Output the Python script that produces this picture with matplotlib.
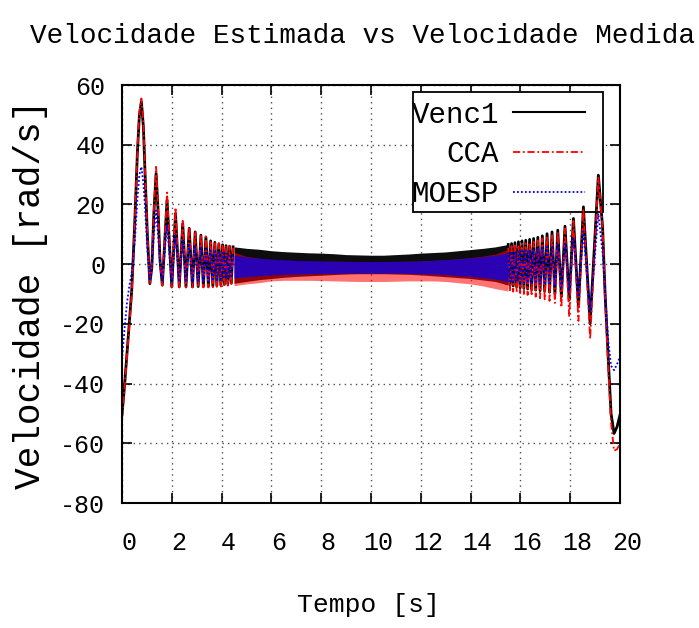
import matplotlib
matplotlib.use("Agg")
import matplotlib.pyplot as plt
from matplotlib.patches import Rectangle
from matplotlib.transforms import ScaledTranslation

plt.rcParams["font.family"] = ["Liberation Mono", "DejaVu Sans Mono"]
plt.rcParams["axes.unicode_minus"] = False

# ---------------------------------------------------------------------------
# Data: turning points of the slow start/end of the sweep, and the envelope
# of the dense middle part (too fast to resolve single cycles)
# ---------------------------------------------------------------------------
t_left = [0.00, 0.10, 0.20, 0.30, 0.39, 0.45, 0.52, 0.62, 0.70, 0.78,
          0.86, 0.92, 1.02, 1.12, 1.20, 1.28, 1.37, 1.45, 1.53, 1.62,
          1.81, 2.00, 2.15, 2.30, 2.44, 2.57, 2.70, 2.83, 2.94, 3.06,
          3.17, 3.27, 3.37, 3.47, 3.56, 3.65, 3.73, 3.81, 3.89, 3.97,
          4.04, 4.11, 4.18, 4.25, 4.32, 4.39, 4.46]
venc_left = [-50.5, -41, -30, -19, -9, 2, 15.4, 37.6, 50, 54.4,
             46, 32, 9.7, -6.5, -1, 17, 30.4, 18, 1, -7,
             21.4, -7.6, 17, -7.6, 13.6, -7.6, 12, -7.6, 10.8, -7.5,
             9.7, -7.5, 9.1, -7.4, 7.8, -7.3, 7.3, -7.2, 6.8, -7.0,
             6.5, -6.8, 6.2, -6.6, 6.0, -6.4, 5.8]
cca_left = [-51.5, -42, -31, -20, -10, 1, 15, 38, 51, 55.5,
            47, 33, 10, -6.5, -0.5, 18, 32.6, 19, 1, -7.2,
            24, -7.8, 19, -7.8, 14.5, -7.8, 12.5, -7.8, 11, -7.8,
            10, -7.8, 9.2, -7.8, 8, -7.7, 7.5, -7.6, 7, -7.5,
            6.5, -7.4, 6.2, -7.2, 6, -7.0, 5.5]
moesp_left = [-32, -22, -13, -7, -3, 2, 8, 22, 30, 32.6,
              27, 20, 5, -5.5, -1, 10, 18, 10, 0, -5.5,
              13, -6, 9.5, -6, 8, -6, 7, -6, 6, -6,
              5.5, -6, 5, -5.8, 4.5, -5.6, 4.2, -5.4, 4, -5.2,
              3.8, -5, 3.6, -4.8, 3.4, -4.6, 3.2]

t_band = [4.5, 5.0, 5.5, 6.0, 6.5, 7.0, 7.5, 8.0, 8.5, 9.0, 9.5, 10.0,
          10.5, 11.0, 11.5, 12.0, 12.5, 13.0, 13.5, 14.0, 14.5, 15.0, 15.5]
venc_hi = [5.8, 5.3, 5.0, 4.5, 4.2, 4.0, 3.8, 3.7, 3.5, 3.2, 3.1, 3.0,
           3.0, 3.2, 3.4, 3.7, 3.9, 4.1, 4.5, 4.9, 5.3, 5.8, 6.6]
venc_lo = [-6.4, -5.8, -5.2, -4.8, -4.4, -4.1, -3.9, -3.7, -3.5, -3.3, -3.2, -3.2,
           -3.2, -3.3, -3.4, -3.6, -3.9, -4.2, -4.5, -4.8, -5.3, -5.8, -7.0]
cca_hi = [4.0, 2.6, 2.0, 1.6, 1.4, 1.2, 1.1, 1.0, 1.0, 0.9, 0.9, 0.9,
          0.9, 0.9, 1.0, 1.1, 1.3, 1.5, 1.8, 2.2, 2.7, 3.4, 5.0]
cca_lo = [-7.2, -6.6, -6.2, -5.6, -5.4, -5.4, -5.4, -5.5, -5.6, -5.7, -5.8, -5.8,
          -5.8, -5.7, -5.6, -5.6, -5.6, -5.8, -6.2, -6.6, -7.3, -8.2, -9.0]
moesp_hi = [3.0, 2.4, 2.0, 1.7, 1.5, 1.3, 1.2, 1.1, 1.0, 1.0, 0.9, 0.9,
            0.9, 1.0, 1.0, 1.1, 1.3, 1.5, 1.8, 2.1, 2.5, 3.0, 3.8]
moesp_lo = [-4.6, -4.2, -3.9, -3.6, -3.4, -3.3, -3.2, -3.1, -3.1, -3.0, -3.0, -3.0,
            -3.0, -3.0, -3.1, -3.2, -3.3, -3.5, -3.8, -4.1, -4.5, -5.0, -5.8]

t_right = [15.51, 15.58, 15.645, 15.71, 15.78, 15.85, 15.92, 15.99, 16.065, 16.14,
           16.215, 16.29, 16.37, 16.45, 16.53, 16.615, 16.70, 16.79, 16.88, 16.975,
           17.07, 17.17, 17.27, 17.385, 17.50, 17.645, 17.79, 17.96, 18.13, 18.33,
           18.53, 18.80, 19.13, 19.30, 19.40, 19.53, 19.64, 19.76, 19.88, 20.00]
venc_right = [6.6, -7.0, 6.9, -7.3, 7.2, -7.6, 7.5, -7.9, 7.8, -8.1,
              8.0, -8.3, 8.3, -8.5, 8.6, -8.7, 9.0, -8.9, 9.5, -9.1,
              10.2, -9.4, 10.8, -9.9, 11.4, -10.9, 12.7, -12.0, 15.3, -14.3,
              19.2, -19.9, 29.8, 12.5, -9.8, -32, -50, -56.7, -54.5, -50.5]
cca_right = [5.5, -9.0, 6, -9.2, 6.2, -9.4, 6.5, -9.7, 6.8, -10.0,
             7.0, -10.3, 7.3, -10.6, 7.6, -10.9, 8.0, -11.4, 8.6, -11.8,
             9.4, -12.3, 10.0, -13.0, 10.8, -14.5, 12.0, -17.6, 14.5, -19.0,
             18.5, -25.0, 29.0, 12.0, -11.0, -35.0, -53.0, -62.5, -62.0, -60.0]
moesp_right = [4.0, -5.8, 4.1, -5.9, 4.2, -6.0, 4.3, -6.1, 4.5, -6.2,
               4.6, -6.3, 4.8, -6.4, 5.0, -6.5, 5.2, -6.6, 5.5, -6.8,
               5.8, -7.0, 6.2, -7.3, 6.6, -7.8, 7.3, -9.0, 9.0, -11.0,
               11.0, -16.0, 17.0, 4.0, -9.0, -26.0, -34.0, -35.5, -33.5, -31.0]

labels = ["Venc1", "CCA", "MOESP"]
x_ticks = list(range(0, 21, 2))
y_ticks = list(range(-80, 61, 20))

# ---------------------------------------------------------------------------
# Figure
# ---------------------------------------------------------------------------
fig = plt.figure(figsize=(6.99, 6.28), dpi=100)
ax = fig.add_axes([0.1745, 0.199, 0.7125, 0.6656])

styles = [
    dict(color="black", lw=2.0, ls="-"),
    dict(color="red", lw=1.3, ls=(0, (4, 1.5, 1, 1.5))),
    dict(color="blue", lw=1.3, ls=(0, (1, 1.2))),
]
band_alpha = [0.95, 0.55, 0.7]
series = [
    (venc_left, venc_hi, venc_lo, venc_right),
    (cca_left, cca_hi, cca_lo, cca_right),
    (moesp_left, moesp_hi, moesp_lo, moesp_right),
]

for (left, hi, lo, right), st, a in zip(series, styles, band_alpha):
    ax.plot(t_left, left, zorder=2, **st)
    ax.fill_between(t_band, lo, hi, color=st["color"], alpha=a, lw=0, zorder=2)
    ax.plot(t_right, right, zorder=2, **st)

ax.set_xlim(0, 20)
ax.set_ylim(-80, 60)
ax.set_xticks(x_ticks)
ax.set_yticks(y_ticks)
ax.grid(True, color="0.3", linestyle=(0, (1, 3)), linewidth=1.0)
ax.set_axisbelow(True)
ax.tick_params(direction="in", top=True, right=True, length=7, width=1.2,
               labelsize=18)
ax.tick_params(axis="x", pad=20)
ax.tick_params(axis="y", pad=12)
for sp in ax.spines.values():
    sp.set_linewidth(1.5)

# gnuplot-style offset of the x tick labels
shift = ScaledTranslation(7 / 100, 0, fig.dpi_scale_trans)
for lbl in ax.get_xticklabels():
    lbl.set_transform(lbl.get_transform() + shift)

# Key box drawn by hand: text right-aligned, sample on the right
ax.add_patch(Rectangle((0.584, 0.696), 0.382, 0.287, transform=ax.transAxes,
                       facecolor="white", edgecolor="black", lw=1.3, zorder=1.5))
key_text_y = [0.928, 0.835, 0.739]
key_line_y = [0.936, 0.840, 0.745]
for name, st, ty, ly in zip(labels, styles, key_text_y, key_line_y):
    ax.text(0.757, ty, name, transform=ax.transAxes, ha="right", va="center",
            fontsize=21, zorder=5)
    ax.plot([0.785, 0.930], [ly, ly], transform=ax.transAxes, zorder=5,
            color=st["color"], ls=st["ls"], lw=1.3 if st["color"] != "black" else 1.5)

fig.text(0.519, 0.943, "Velocidade Estimada vs Velocidade Medida",
         ha="center", va="center", fontsize=20)
fig.text(0.527, 0.037, "Tempo [s]", ha="center", va="center", fontsize=19)
fig.text(0.043, 0.532, "Velocidade [rad/s]", ha="center", va="center",
         rotation=90, fontsize=26)

fig.savefig("out.png", dpi=100)
